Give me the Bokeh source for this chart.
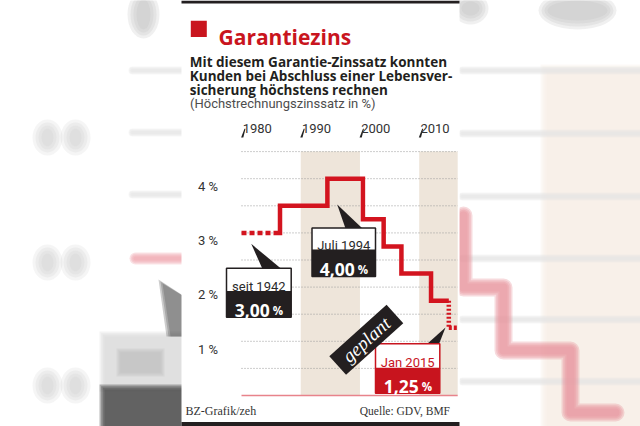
import math
from bokeh.plotting import figure
from bokeh.models import Range1d
from bokeh.core.properties import value
from bokeh.embed import file_html
from bokeh.resources import INLINE

# ---------------- data ----------------
TITLE = "Garantiezins"
SUBTITLE = ["Mit diesem Garantie-Zinssatz konnten",
            "Kunden bei Abschluss einer Lebensver-",
            "sicherung höchstens rechnen"]
UNIT_NOTE = "(Höchstrechnungszinssatz in %)"
change_years = [1942, 1986.5, 1994.5, 2000.5, 2004, 2007, 2012, 2015]
guarantee_rates = [3.00, 3.50, 4.00, 3.25, 2.75, 2.25, 1.75, 1.25]
decade_ticks = [1980, 1990, 2000, 2010]
decade_labels = ["1980", "1990", "2000", "2010"]
y_ticks = [1, 2, 3, 4]
y_tick_labels = ["1 %", "2 %", "3 %", "4 %"]
grid_levels = [0.5, 1.0, 1.5, 2.0, 2.5, 3.0, 3.5, 4.0, 4.5]
shaded_spans = [(1990, 2000), (2010, 2020)]
x_min, x_max = 1980, 2016.5
y_max = 4.5
callout_titles = ["seit 1942", "Juli 1994", "Jan 2015"]
callout_values = [3.00, 4.00, 1.25]
PLANNED = "geplant"
FOOTER_LEFT = "BZ-Grafik/zeh"
FOOTER_RIGHT = "Quelle: GDV, BMF"

# ---------------- layout helpers (page pixels -> data) ----------------
W, H = 640, 426
PX_YEAR = 5.923
PX_PCT = 54.2
OX, OY = 241.0, 395.0


def X(px):
    return x_min + (px - OX) / PX_YEAR


def Y(py):
    return (OY - py) / PX_PCT


def XS(v):
    return [X(a) for a in v]


def YS(v):
    return [Y(a) for a in v]


def fmt(v):
    return f"{v:.2f}".replace(".", ",")


FONT = value("Roboto")
BOLDFONT = value("Open Sans")
SERIF = value("Liberation Serif")
RED = "#d3141f"
RED_BOX = "#c8141e"
BLACK = "#231f20"

p = figure(width=W, height=H,
           x_range=Range1d(X(0), X(W)), y_range=Range1d(Y(H), Y(0)),
           output_backend="svg", toolbar_location=None,
           x_axis_location=None, y_axis_location=None,
           min_border=0, outline_line_color=None,
           background_fill_color="white", border_fill_color="white")
p.grid.visible = False


# ---------------- blurred backdrop (soft layered shapes) ----------------
def soft_line(xs, ys, color, width, spread=8, alpha=0.3):
    for k in range(3, -1, -1):
        p.line(XS(xs), YS(ys), line_color=color, line_width=width + spread * k / 3,
               line_alpha=alpha, line_join="round", line_cap="round")


def soft_box(l, r, t, b, color, spread=6, alpha=0.3):
    for k in range(3, -1, -1):
        s = spread * k / 3
        p.quad(left=X(l - s), right=X(r + s), top=Y(t - s), bottom=Y(b + s),
               fill_color=color, fill_alpha=alpha, line_color=None)


def soft_blob(cx, cy, w, h, color, alpha=0.22):
    for k in range(3, -1, -1):
        p.ellipse(x=XS(cx), y=YS(cy), width=[a + 6 * k for a in w],
                  height=[a + 6 * k for a in h], width_units="screen",
                  height_units="screen", fill_color=color, fill_alpha=alpha,
                  line_color=None)


soft_box(546, 660, 70, 440, "#f5eee4", spread=6, alpha=0.35)
for py in [70, 133, 196, 258, 319, 381]:
    soft_line([462, 650], [py, py], "#e6e6e6", 3, spread=5, alpha=0.3)
for py in [70, 132, 194]:
    soft_line([132, 181], [py, py], "#e6e6e6", 3, spread=5, alpha=0.3)
soft_line([463, 463, 503, 503, 570, 570, 615], [215, 287, 287, 350, 350, 412, 412],
          "#e8959e", 8, spread=10, alpha=0.35)
soft_line([135, 181], [258, 258], "#ee9fa8", 4, spread=8, alpha=0.3)
soft_blob([143, 577, 470], [14, 10, 8], [14, 60, 18], [30, 20, 14], "#b9b9b9")
soft_blob([47, 75, 47, 75, 47, 75], [137, 137, 262, 262, 385, 385],
          [12] * 6, [18] * 6, "#c8c8c8", alpha=0.18)
soft_box(104, 190, 336, 386, "#d6d6d6", spread=5, alpha=0.3)
soft_box(104, 190, 389, 440, "#4a4a4a", spread=5, alpha=0.4)
soft_box(120, 160, 352, 372, "#bdbdbd", spread=4, alpha=0.25)
for k in range(3):
    p.patch(XS([162 - 2 * k, 170 - 2 * k, 190, 190]), YS([283 - 2 * k, 336, 336, 300]),
            fill_color="#4a4a4a", fill_alpha=0.28, line_color=None)

# white panel
p.quad(left=X(181), right=X(459), bottom=Y(H), top=Y(0),
       fill_color="white", line_color=None)
p.quad(left=X(181), right=X(459), bottom=Y(3), top=Y(0), fill_color=BLACK, line_color=None)
p.quad(left=X(181), right=X(459), bottom=Y(H), top=Y(421.5), fill_color=BLACK,
       line_color=None)

# ---------------- chart ----------------
for a, b in shaded_spans:
    p.quad(left=a, right=min(b, x_max), bottom=0, top=y_max,
           fill_color="#eee5da", line_color=None)

p.multi_line(xs=[[x_min, x_max] for _ in grid_levels],
             ys=[[g, g] for g in grid_levels],
             line_color="#9b9b9b", line_width=1, line_dash="1 2")
p.line([x_min, x_max], [0, 0], line_color="#e8838b", line_width=1.5)

# decade marks and labels
p.patches(xs=[[d + dx / PX_YEAR for dx in (-0.4, 1.8, 4.0, 3.0)] for d in decade_ticks],
          ys=[YS([137, 137, 128.3, 128.3]) for _ in decade_ticks],
          fill_color="#222222", line_color=None)
p.text(x=[d + 1.2 / PX_YEAR for d in decade_ticks], y=[Y(127.7)] * len(decade_ticks),
       text=decade_labels, text_align="left", text_baseline="alphabetic",
       text_font=FONT, text_font_size="13px", text_color="#333333")

# y labels
p.text(x=[X(217.5)] * len(y_ticks), y=[t - 7.8 / PX_PCT for t in y_ticks],
       text=y_tick_labels, text_align="right", text_baseline="alphabetic",
       text_font=FONT, text_font_size="13px", text_color="#333333")

# rate line
r0 = guarantee_rates[0]
p.line([x_min, change_years[1] - 3 / PX_YEAR], [r0, r0], line_color=RED,
       line_width=4.5, line_dash="5 3")
lx = [change_years[1] - 3 / PX_YEAR, change_years[1]]
ly = [r0, r0]
for i in range(1, len(change_years) - 1):
    lx += [change_years[i], change_years[i + 1]]
    ly += [guarantee_rates[i], guarantee_rates[i]]
p.line(lx, ly, line_color=RED, line_width=4.5, line_join="miter")
p.line([change_years[-1], change_years[-1]], [guarantee_rates[-2], guarantee_rates[-1]],
       line_color=RED, line_width=4.5, line_dash="2 2")
p.line([change_years[-1], x_max], [guarantee_rates[-1], guarantee_rates[-1]],
       line_color=RED, line_width=4.5, line_dash="3 2")

# ---------------- callouts ----------------
boxes = [  # left, right, top, mid, bottom, title baseline, value baseline (page px)
    (226.0, 290.7, 267.7, 290.5, 316.7, 285.5, 310.3),
    (311.5, 375.0, 227.5, 249.0, 276.0, 245.0, 268.7),
    (375.0, 439.3, 343.3, 367.3, 392.7, 361.7, 386.0),
]
pointers = [
    ([250.7, 262, 281], [243.3, 268.5, 268.5]),
    ([336.7, 345, 362], [204, 228, 228]),
    ([445, 426.5, 438.5], [327, 343.5, 343.5]),
]
edge_colors = [BLACK, BLACK, RED_BOX]
title_colors = ["#2b2b2b", "#2b2b2b", RED_BOX]

p.patches(xs=[XS(a) for a, _ in pointers], ys=[YS(b) for _, b in pointers],
          fill_color=BLACK, line_color=None)

for (L, R, T, M, B, tb, vb), ttl, val, ec, tc in zip(boxes, callout_titles, callout_values,
                                                    edge_colors, title_colors):
    p.quad(left=X(L), right=X(R), top=Y(T), bottom=Y(M), fill_color="white", line_color=None)
    p.quad(left=X(L), right=X(R), top=Y(M), bottom=Y(B), fill_color=ec, line_color=None)
    p.quad(left=X(L), right=X(R), top=Y(T), bottom=Y(B), fill_color=None,
           line_color=ec, line_width=1.5)
    c = (L + R) / 2
    p.text(x=[X(c)], y=[Y(tb)], text=[ttl], text_align="center", text_baseline="alphabetic",
           text_font=FONT, text_font_size="13px", text_color=tc)
    p.text(x=[X(c + 11)], y=[Y(vb)], text=[fmt(val)], text_align="right",
           text_baseline="alphabetic", text_font=BOLDFONT, text_font_size="17.5px",
           text_font_style="bold", text_color="white")
    p.text(x=[X(c + 14)], y=[Y(vb)], text=["%"], text_align="left",
           text_baseline="alphabetic", text_font=BOLDFONT, text_font_size="11.5px",
           text_font_style="bold", text_color="white")

# "geplant" tag
ang = math.radians(42)
p.rect(x=[X(365.8)], y=[Y(339.2)], width=77, height=25, angle=ang,
       width_units="screen", height_units="screen", fill_color=BLACK, line_color=None)
p.text(x=[X(365.8)], y=[Y(339.2)], text=[PLANNED], angle=ang, text_align="center",
       text_baseline="middle", text_font=SERIF, text_font_size="19px",
       text_font_style="italic", text_color="white")

# ---------------- titles ----------------
p.quad(left=X(190.3), right=X(206.3), top=Y(20.3), bottom=Y(36.5),
       fill_color="#c9151e", line_color=None)
p.text(x=[X(218)], y=[Y(36.7)], text=[TITLE], text_align="left", text_baseline="alphabetic",
       text_font=BOLDFONT, text_font_size="21px", text_font_style="bold", text_color="#c9151e")
p.text(x=[X(189.3)] * len(SUBTITLE), y=YS([61.7, 75.5, 89.3]), text=SUBTITLE,
       text_align="left", text_baseline="alphabetic", text_font=BOLDFONT,
       text_font_size="13.5px", text_font_style="bold", text_color=BLACK)
p.text(x=[X(189.5)], y=[Y(103)], text=[UNIT_NOTE], text_align="left",
       text_baseline="alphabetic", text_font=FONT, text_font_size="13px",
       text_color="#4d4d4d")

# footers
p.text(x=[X(185)], y=[Y(410.3)], text=[FOOTER_LEFT], text_align="left",
       text_baseline="alphabetic", text_font=SERIF, text_font_size="12px",
       text_color="#333333")
p.text(x=[X(449.5)], y=[Y(410.3)], text=[FOOTER_RIGHT], text_align="right",
       text_baseline="alphabetic", text_font=SERIF, text_font_size="11.5px",
       text_color="#333333")

open("out.html", "w").write(file_html(p, INLINE))
